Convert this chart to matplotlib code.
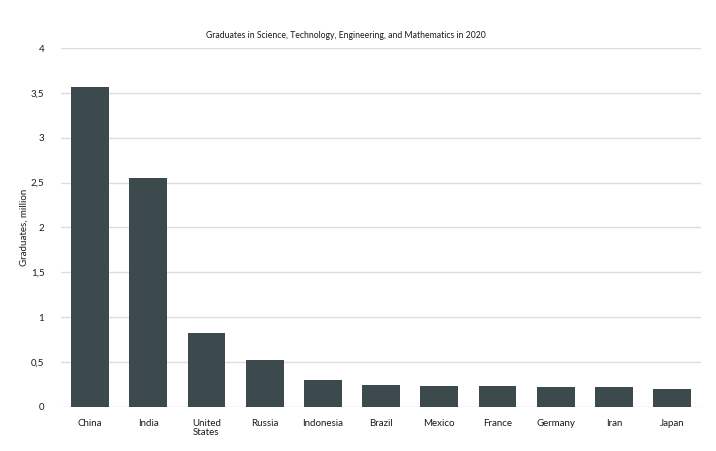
import matplotlib.pyplot as plt
import numpy as np

plt.rcParams['font.family'] = ['Lato', 'DejaVu Sans']

countries = ["China", "India", "United\nStates", "Russia", "Indonesia", "Brazil",
             "Mexico", "France", "Germany", "Iran", "Japan"]
graduates = [3.57, 2.55, 0.82, 0.52, 0.30, 0.24, 0.23, 0.23, 0.22, 0.215, 0.20]
yticks = [0, 0.5, 1, 1.5, 2, 2.5, 3, 3.5, 4]
ytick_labels = ["0", "0,5", "1", "1,5", "2", "2,5", "3", "3,5", "4"]

fig = plt.figure(figsize=(7.16, 4.51), dpi=100)
ax = fig.add_axes([0.0852, 0.0982, 0.894, 0.795])

x = np.arange(len(countries))
ax.bar(x, graduates, width=0.65, color="#3c4a4d", zorder=2)

ax.set_xlim(-0.5, len(countries) - 0.5)
ax.set_ylim(0, 4)
ax.set_yticks(yticks)
ax.set_yticklabels(ytick_labels, fontsize=7)
ax.set_xticks(x)
ax.set_xticklabels(countries, fontsize=7, linespacing=0.95, va="top")
ax.tick_params(axis="both", length=0, colors="#1a1a1a")
ax.tick_params(axis="x", pad=9)
ax.tick_params(axis="y", pad=12)
ax.yaxis.grid(True, color="#dddddd", linewidth=1, zorder=0)
for s in ax.spines.values():
    s.set_visible(False)

ax.set_ylabel("Graduates, million", fontsize=7, labelpad=1.5, color="#1a1a1a")
fig.text(0.483, 0.922, "Graduates in Science, Technology, Engineering, and Mathematics in 2020",
         ha="center", va="center", fontsize=6.2, color="#1a1a1a")

fig.savefig("out.png", dpi=100)
